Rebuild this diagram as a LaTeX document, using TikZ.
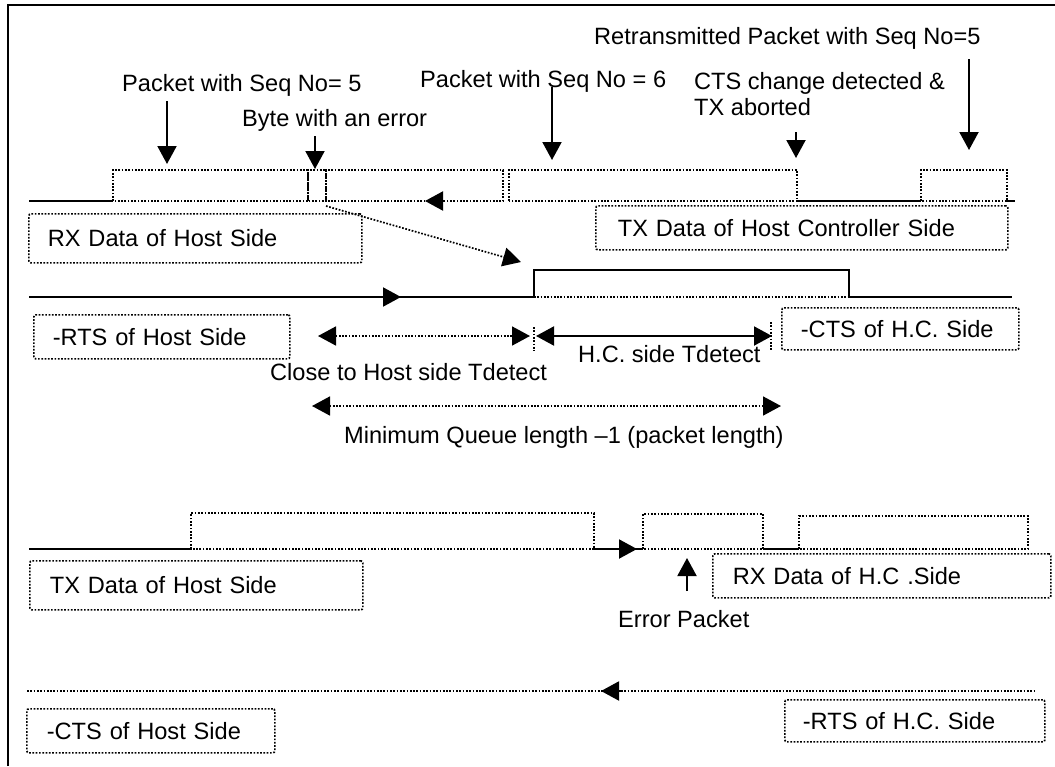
\documentclass[tikz,border=0pt]{standalone}
\usepackage{fontspec}
\setmainfont{Liberation Sans}
\usepackage{tikz}
\usetikzlibrary{arrows.meta}
\newcommand\labfont{\fontsize{23.6}{28}\selectfont}

\begin{document}
\begin{tikzpicture}[
  x=1pt,y=-1pt,
  every node/.style={inner sep=0pt,font=\labfont},
  sig/.style={line width=2pt},
  dots/.style={line width=1.7pt,dash pattern=on 1.7pt off 1.6pt},
  lbl/.style={draw,dots,rounded corners=2pt,anchor=north west,align=left},
  tip/.style={-{Triangle[length=18pt,width=19pt]}},
  arr/.style={sig,tip},
  dotarr/.style={dots,tip},
  both/.style={{Triangle[length=18pt,width=19pt]}-{Triangle[length=18pt,width=19pt]}}
]
\useasboundingbox (0,0) rectangle (1055,766);
\draw[line width=2.8pt] (8,766) -- (8,5) -- (1055,5);

% signal names
\node[lbl,minimum height=49pt,text width=295pt,inner xsep=19pt] (rxhost) at (28,213) {RX Data of Host Side};
\node[lbl,minimum height=44pt,text width=368pt,inner xsep=22pt] (txhc) at (595,205) {TX Data of Host Controller Side};
\node[lbl,minimum height=44pt,text width=218pt,inner xsep=19pt] (rtshost) at (33,314) {-RTS of Host Side};
\node[lbl,minimum height=42pt,text width=199pt,inner xsep=19pt] (ctshc) at (781,307) {-CTS of H.C. Side};
\node[lbl,minimum height=49pt,text width=293pt,inner xsep=20pt] (txhost) at (29,560) {TX Data of Host Side};
\node[lbl,minimum height=44pt,text width=298pt,inner xsep=20pt] (rxhc) at (712,553) {RX Data of H.C .Side};
\node[lbl,minimum height=44pt,text width=208pt,inner xsep=20pt] (ctshost) at (26,708) {-CTS of Host Side};
\node[lbl,minimum height=42pt,text width=224pt,inner xsep=18pt] (rtshc) at (784,699) {-RTS of H.C. Side};

% annotations
\node[anchor=base west] (seq5) at (122,91) {Packet with Seq No= 5};
\node[anchor=base west] (errbyte) at (242,126) {Byte with an error};
\node[anchor=base west] (seq6) at (420,87) {Packet with Seq No = 6};
\node[anchor=base west,align=left] (abort) at (694,115) {CTS change detected \&\\[-2pt]TX aborted};
\node[anchor=base west] (retx) at (594,44) {Retransmitted Packet with Seq No=5};
\node[anchor=base west] (hostdet) at (270,380) {Close to Host side Tdetect};
\node[anchor=base west] (hcdet) at (578,362) {H.C. side Tdetect};
\node[anchor=base west] (queue) at (344,443) {Minimum Queue length --1 (packet length)};
\node[anchor=base west] (errpkt) at (618,627) {Error Packet};

% row 1: RX data of host / TX data of H.C.
\draw[sig] (29,201) -- (113,201) (797,201) -- (921,201) (1007,201) -- (1015,201);
\draw[dots] (113,201) rectangle (308,170) (308,201) rectangle (326,170)
  (326,201) rectangle (503,170) (509,201) rectangle (797,170) (921,201) rectangle (1007,170);
\draw[arr] (444,201) -- (425,201);
\coordinate (p5) at (167,164);
\coordinate (perr) at (315,169);
\coordinate (p6) at (552,160);
\coordinate (pab) at (796,158);
\coordinate (prt) at (969,150);
\draw[arr] (167,101) -- (p5);
\draw[arr] (315,136) -- (perr);
\draw[arr] (552,87) -- (p6);
\draw[arr] (796,132) -- (pab);
\draw[arr] (969,59) -- (prt);
\coordinate (rise) at (534,270);
\draw[dotarr] (326,206) -- (521,262);

% row 2: -RTS of host / -CTS of H.C.
\draw[sig] (29,297) -- (534,297) -- (rise) -- (849,270) -- (849,297) -- (1012,297);
\draw[dots] (534,297) -- (849,297);
\draw[arr] (383,297) -- (401,297);
\coordinate (t1) at (534,336);
\coordinate (t2) at (771,336);
\draw[dots] (534,327) -- (534,351) (771,322) -- (771,350);
\draw[dots,both] (318,336) -- ([xshift=-4pt]t1);
\draw[sig,both] ([xshift=2pt]t1) -- ([xshift=1pt]t2);
\draw[dots,both] (312,406) -- (781,406);

% row 3: TX data of host / RX data of H.C.
\draw[sig] (29,549) -- (191,549) (594,549) -- (643,549) (763,549) -- (799,549);
\draw[dots] (191,549) rectangle (594,513) (643,549) rectangle (763,514) (799,549) rectangle (1028,516);
\draw[arr] (618,549) -- (637,549);
\coordinate (perrpkt) at (687,558);
\draw[arr] (687,591) -- (perrpkt);

% row 4: -CTS of host / -RTS of H.C.
\draw[dots] (27,691) -- (1034,691);
\draw[arr] (621,691) -- (601,691);
\end{tikzpicture}
\end{document}
